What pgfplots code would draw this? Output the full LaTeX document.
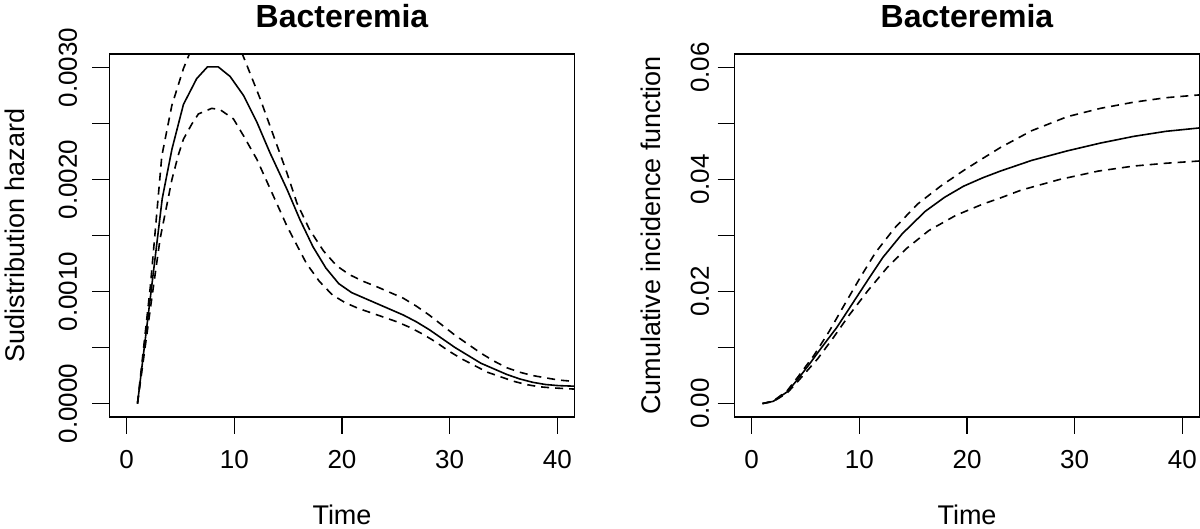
\documentclass[border=0pt]{standalone}
\usepackage{pgfplots}
\pgfplotsset{compat=1.18}
\usepackage{fontspec}
\setmainfont{Liberation Sans}

\pgfplotsset{
  rstyle/.style={
    scale only axis,
    width=232.5pt, height=181.5pt,
    xmin=-1.6, xmax=41.6,
    xtick={0,10,20,30,40}, xticklabels={0,10,20,30,40},
    xtick pos=left, ytick pos=left, tick align=outside,
    major tick length=8.5pt,
    axis line style={line width=0.75pt},
    every tick/.style={line width=0.75pt, black},
    tick label style={font=\fontsize{13}{15}\selectfont, inner sep=0pt},
    xticklabel style={anchor=north},
    yticklabel style={rotate=90, anchor=south},
    xticklabel shift=7.8pt,
    label style={font=\fontsize{13.5}{15}\selectfont, inner sep=0pt},
    xlabel style={at={([yshift=-54pt]axis description cs:0.5,0)}, anchor=base},
    title style={at={([yshift=7pt]axis description cs:0.5,1)}, anchor=base,
      font=\fontsize{16}{19}\selectfont\bfseries, inner sep=0pt},
    scaled y ticks=false,
    solid curve/.style={black, line width=0.8pt},
    dash curve/.style={black, line width=0.8pt, dash pattern=on 4pt off 3pt},
  }
}

\begin{document}
\begin{tikzpicture}
\path[use as bounding box] (0,0) rectangle (600pt,264.5pt);

% ---------- Left panel ----------
\begin{axis}[rstyle,
  at={(54.75pt,56pt)}, anchor=south west,
  ymin=-0.00012, ymax=0.00312,
  ytick={0,0.0005,0.001,0.0015,0.002,0.0025,0.003},
  yticklabels={0.0000,,0.0010,,0.0020,,0.0030},
  yticklabel shift=7.5pt,
  ylabel style={at={([xshift=-42.25pt]axis description cs:0,0.5)}, anchor=base, rotate=0},
  title={Bacteremia},
  xlabel={Time},
  ylabel={Sudistribution hazard},
]
\addplot[solid curve] coordinates {
(1,0) (2.2,0.00095) (3.3,0.00183) (4.2,0.00227) (5.27,0.00267) (6.5,0.00290)
(7.5,0.003005) (8.5,0.003005) (9.6,0.00292) (10.85,0.00275) (12.1,0.00251)
(13.3,0.00224) (14.9,0.00191) (16.1,0.00164) (17.3,0.00140) (18.5,0.00121)
(19.7,0.00107) (20.9,0.00099) (22.1,0.00094) (23.3,0.00089) (24.5,0.00084)
(25.7,0.00079) (26.9,0.00073) (28.1,0.00066) (29.3,0.00058) (30.5,0.00050)
(31.7,0.00043) (32.9,0.00036) (34.1,0.00031) (35.3,0.00026) (36.5,0.00022)
(37.7,0.00019) (38.9,0.00017) (40.1,0.00016) (41.6,0.000155) (42,0.000153)
};
\addplot[dash curve] coordinates {
(1,0) (2.2,0.00105) (3.26,0.00221) (4.19,0.00266) (5.27,0.00299) (6.5,0.00328)
(7.5,0.00342) (8.5,0.00345) (9.6,0.00336) (10.7,0.00313) (11.16,0.00302)
(12.4,0.00272) (13.64,0.00239) (14.88,0.00206) (15.81,0.00179) (17.0,0.00155)
(18.3,0.00136) (19.5,0.00123) (20.7,0.00115) (22.0,0.00109) (23.3,0.00104)
(24.5,0.00099) (25.7,0.00094) (26.9,0.00087) (28.1,0.00079) (29.3,0.00070)
(30.5,0.00061) (31.7,0.00053) (32.9,0.00045) (34.1,0.00038) (35.3,0.00032)
(36.5,0.00028) (37.7,0.00025) (38.9,0.00023) (40.1,0.00021) (41.6,0.000197) (42,0.000195)
};
\addplot[dash curve] coordinates {
(1,0) (2.2,0.00085) (3.1,0.00147) (4.2,0.00200) (4.8,0.00222) (5.27,0.00236)
(6.05,0.002495) (6.66,0.002585) (7.9,0.002635) (8.68,0.002623) (9.92,0.00254)
(10.85,0.00239) (12.09,0.00218) (13.64,0.00185) (14.88,0.001585) (15.5,0.00147)
(16.7,0.00125) (17.9,0.00109) (19.1,0.00097) (20.3,0.00090) (21.5,0.00085)
(22.7,0.00081) (23.9,0.00077) (25.1,0.00073) (26.3,0.00068) (27.5,0.00062)
(28.7,0.00055) (29.9,0.00047) (31.1,0.00040) (32.3,0.00034) (33.5,0.00028)
(34.7,0.00024) (35.9,0.00020) (37.1,0.00017) (38.3,0.00015) (39.5,0.00014)
(41.6,0.000129) (42,0.000128)
};
\end{axis}

% ---------- Right panel ----------
\begin{axis}[rstyle,
  at={(367.25pt,56pt)}, anchor=south west,
  ymin=-0.0024, ymax=0.0624,
  ytick={0,0.01,0.02,0.03,0.04,0.05,0.06},
  yticklabels={0.00,,0.02,,0.04,,0.06},
  yticklabel shift=4pt,
  ylabel style={at={([xshift=-37.25pt]axis description cs:0,0.5)}, anchor=base, rotate=0},
  title={Bacteremia},
  xlabel={Time},
  ylabel={Cumulative incidence function},
]
\addplot[solid curve] coordinates {
(1,0) (2,0.0004) (3.3,0.0021) (4.35,0.0045) (5.42,0.0072) (6.49,0.0100)
(7.91,0.0136) (9.34,0.0178) (10.77,0.0220) (12.19,0.0261) (13.98,0.0303)
(16.11,0.0343) (17.9,0.0368) (19.68,0.0388) (21.46,0.0403) (23.1,0.0415)
(26.0,0.0434) (29.3,0.0451) (32.4,0.0465) (35.5,0.0477) (38.5,0.0486)
(41.6,0.0492) (42,0.0493)
};
\addplot[dash curve] coordinates {
(1,0) (2,0.00045) (3.3,0.0023) (4.35,0.0049) (5.78,0.0086) (7.2,0.0129)
(8.63,0.0177) (10.05,0.0224) (11.48,0.0269) (13.26,0.0313) (15.4,0.0356)
(17.54,0.0388) (19.68,0.0416) (21.5,0.0438) (23.1,0.0457) (26.0,0.0487)
(29.3,0.0512) (32.4,0.0527) (35.5,0.0538) (38.5,0.0546) (41.6,0.0551) (42,0.0552)
};
\addplot[dash curve] coordinates {
(1,0) (2,0.00035) (3.3,0.0019) (4.35,0.0041) (6.13,0.0080) (7.56,0.0117)
(8.98,0.0156) (10.77,0.0201) (12.55,0.0242) (14.33,0.0276) (16.47,0.0309)
(18.97,0.0336) (21.46,0.0356) (23.1,0.0367) (25.03,0.0381) (28.6,0.0400)
(32.2,0.0415) (35.5,0.0424) (38.5,0.0429) (41.6,0.0433) (42,0.0433)
};
\end{axis}
\end{tikzpicture}
\end{document}
